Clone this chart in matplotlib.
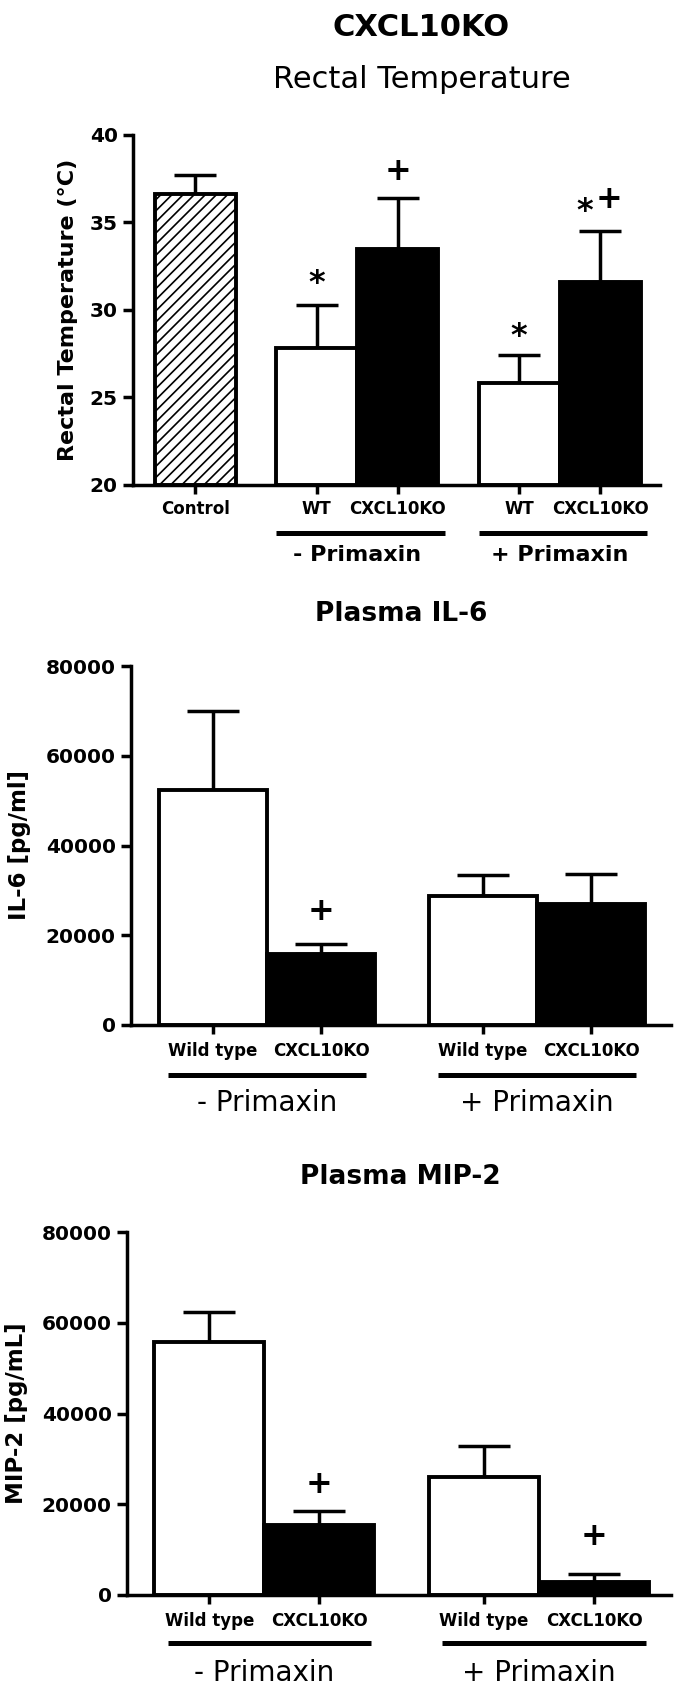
"""CXCL10KO rectal temperature / plasma IL-6 / plasma MIP-2 bar panels
"""

import matplotlib
import matplotlib.pyplot as plt
from matplotlib.transforms import ScaledTranslation

matplotlib.use("Agg")
plt.rcParams["font.family"] = ["DejaVu Sans"]
plt.rcParams["hatch.linewidth"] = 1.2
dpi = 100

# --- data -----------------------------------------------------------------
# rectal temperature (deg C)
temp_labels = ["Control", "WT", "CXCL10KO", "WT", "CXCL10KO"]
temp_pos = [0, 1.5, 2.5, 4, 5]
temp_mean = [36.6, 27.8, 33.5, 25.8, 31.6]
temp_err = [1.1, 2.5, 2.9, 1.6, 2.9]
temp_marks = ["", "*", "+", "*", "*+"]
temp_mark_at = [0, 31.5, 37.9, 28.5, 35.6]

# plasma IL-6 (pg/ml)
il6_labels = ["Wild type", "CXCL10KO", "Wild type", "CXCL10KO"]
il6_pos = [0, 1, 2.5, 3.5]
il6_mean = [52300, 15800, 28800, 26900]
il6_err = [17700, 2300, 4600, 6800]
il6_marks = ["", "+", "", ""]
il6_mark_at = [0, 25200, 0, 0]

# plasma MIP-2 (pg/mL)
mip2_labels = ["Wild type", "CXCL10KO", "Wild type", "CXCL10KO"]
mip2_pos = [0, 1, 2.5, 3.5]
mip2_mean = [55700, 15500, 26000, 2900]
mip2_err = [6700, 2950, 6800, 1750]
mip2_marks = ["", "+", "", "+"]
mip2_mark_at = [0, 24400, 0, 12900]

groups = ["- Primaxin", "+ Primaxin"]

LW = 2.5


def offset_trans(fig, ax, pts):
    """x in data, y = axis bottom shifted down by pts"""
    return ax.get_xaxis_transform() + ScaledTranslation(
        0, -pts / 72, fig.dpi_scale_trans)


def draw_panel(fig, rect, pos, mean, err, labels, marks, mark_at, faces,
               hatches, ylim, yticks, xlim, capsize, label_size, label_pad,
               group_idx, group_span, group_off, group_font):
    ax = fig.add_axes(rect)
    bottom = ylim[0]
    ax.errorbar(pos, mean, yerr=[[0] * len(err), err], fmt="none",
                ecolor="black", elinewidth=LW, capsize=capsize,
                capthick=LW, zorder=1, clip_on=False)
    ax.bar(pos, [m - bottom for m in mean], bottom=bottom, width=1.0,
           color=faces, edgecolor="black", linewidth=2.8, hatch=hatches,
           zorder=2)

    for x, m, y in zip(pos, marks, mark_at):
        if len(m) == 1:
            ax.text(x, y, m, ha="center", va="center", fontsize=23,
                    fontweight="bold")
        elif len(m) == 2:
            ax.text(x - 0.19, y, m[0], ha="center", va="center",
                    fontsize=23, fontweight="bold")
            ax.text(x + 0.11, y + (ylim[1] - ylim[0]) * 0.035, m[1],
                    ha="center", va="center", fontsize=23,
                    fontweight="bold")

    ax.set_xlim(*xlim)
    ax.set_ylim(*ylim)
    ax.set_yticks(yticks)
    ax.set_xticks(pos)
    ax.set_xticklabels(labels, fontsize=label_size, fontweight="bold")
    for t in ax.get_yticklabels():
        t.set_fontweight("bold")
        t.set_fontsize(14.5)
    ax.tick_params(axis="y", direction="out", length=7, width=LW, pad=4)
    ax.tick_params(axis="x", direction="out", length=6.5, width=LW,
                   pad=label_pad)
    for s in ("top", "right"):
        ax.spines[s].set_visible(False)
    for s in ("left", "bottom"):
        ax.spines[s].set_linewidth(LW)
    ax.spines["left"].set_bounds(ylim[0], ylim[1])

    # group bars and captions under the x labels
    for name, (i0, i1) in zip(groups, group_idx):
        x0 = pos[i0] - group_span[0]
        x1 = pos[i1] + group_span[1]
        ax.plot([x0, x1], [0, 0], transform=offset_trans(fig, ax, group_off[0]),
                color="black", lw=3.6, solid_capstyle="butt", clip_on=False)
        ax.text((pos[i0] + pos[i1]) / 2, 0, name,
                transform=offset_trans(fig, ax, group_off[1]),
                ha="center", va="center", **group_font)
    return ax


fig = plt.figure(figsize=(685 / dpi, 1695 / dpi), dpi=dpi)
W, H = 685.0, 1695.0


def rect(left, right, top, bottom):
    return [left / W, 1 - bottom / H, (right - left) / W, (bottom - top) / H]


# panel 1 - rectal temperature
draw_panel(fig, rect(133, 660, 135, 485), temp_pos, temp_mean, temp_err,
           temp_labels, temp_marks, temp_mark_at,
           ["white", "white", "black", "white", "black"],
           ["///", "", "", "", ""], (20, 40), [20, 25, 30, 35, 40],
           (-0.77, 5.74), 15, 12, 4.5,
           [(1, 2), (3, 4)], (0.5, 0.58), (34.6, 50.4),
           dict(fontsize=16, fontweight="bold"))
fig.text(421 / W, 1 - 28 / H, "CXCL10KO", ha="center", va="center",
         fontsize=22, fontweight="bold")
fig.text(422 / W, 1 - 80 / H, "Rectal Temperature", ha="center",
         va="center", fontsize=22)
fig.text(68 / W, 1 - 310 / H, "Rectal Temperature (\u00b0C)", rotation=90,
         ha="center", va="center", fontsize=16, fontweight="bold")

# panel 2 - plasma IL-6
draw_panel(fig, rect(131, 671, 666, 1025), il6_pos, il6_mean, il6_err,
           il6_labels, il6_marks, il6_mark_at,
           ["white", "black", "white", "black"], ["", "", "", ""],
           (0, 80000), [0, 20000, 40000, 60000, 80000],
           (-0.76, 4.24), 19, 12, 5.5,
           [(0, 1), (2, 3)], (0.42, 0.42), (36, 56),
           dict(fontsize=20))
fig.text(401 / W, 1 - 614 / H, "Plasma IL-6", ha="center", va="center",
         fontsize=19, fontweight="bold")
fig.text(20 / W, 1 - 845 / H, "IL-6 [pg/ml]", rotation=90, ha="center",
         va="center", fontsize=16.5, fontweight="bold")

# panel 3 - plasma MIP-2
draw_panel(fig, rect(127, 671, 1232, 1595), mip2_pos, mip2_mean, mip2_err,
           mip2_labels, mip2_marks, mip2_mark_at,
           ["white", "black", "white", "black"], ["", "", "", ""],
           (0, 80000), [0, 20000, 40000, 60000, 80000],
           (-0.75, 4.2), 19, 12, 6,
           [(0, 1), (2, 3)], (0.38, 0.47), (34.6, 56),
           dict(fontsize=20))
fig.text(400 / W, 1 - 1177 / H, "Plasma MIP-2", ha="center", va="center",
         fontsize=19, fontweight="bold")
fig.text(17 / W, 1 - 1413 / H, "MIP-2 [pg/mL]", rotation=90, ha="center",
         va="center", fontsize=16.5, fontweight="bold")

fig.savefig("out.png", dpi=dpi)
plt.close(fig)
